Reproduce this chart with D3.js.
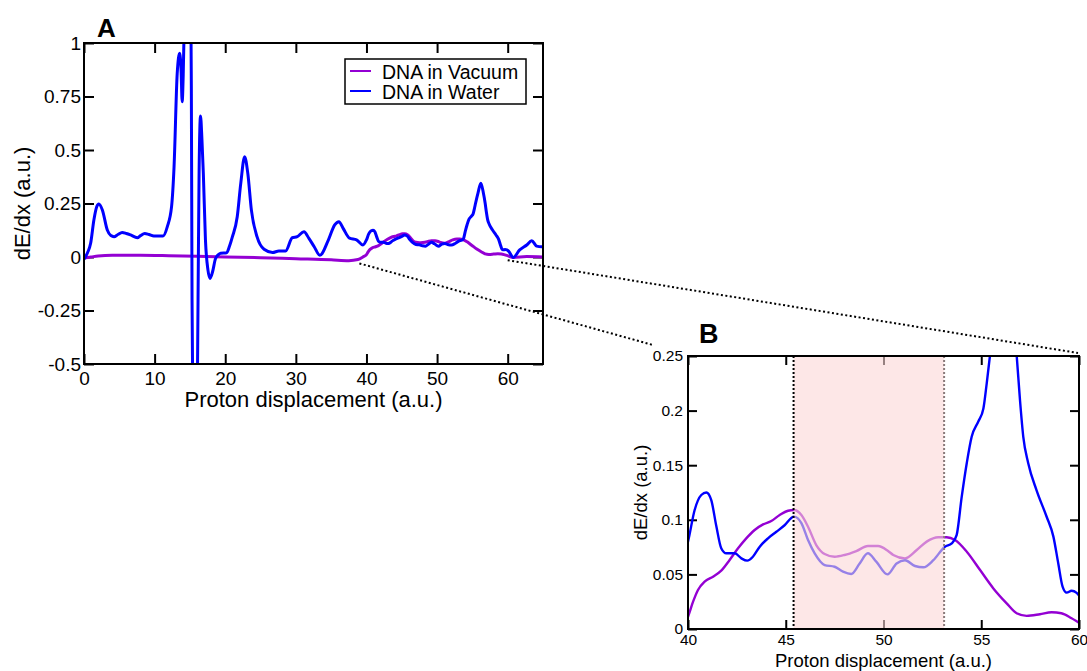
<!DOCTYPE html>
<html>
<head>
<meta charset="utf-8">
<script src="https://cdnjs.cloudflare.com/ajax/libs/d3/7.8.5/d3.min.js"></script>
<style>
body { margin: 0; background: #fff; }
svg { display: block; font-family: "Liberation Sans", Arial, Helvetica, sans-serif; }
</style>
</head>
<body>
<div id="chart"></div>
<script>
// series names + colours
var seriesNames = ["DNA in Vacuum", "DNA in Water"];
var seriesColors = ["#9400d3", "#0000ff"];

// dE/dx in vacuum  [displacement, value]
var vacuumData = [
	[0, -0.005], [1, 0.0], [2, 0.005], [4, 0.008], [8, 0.008], [12, 0.006], [16, 0.003],
	[20, 0.0], [25, -0.003], [30, -0.008], [35, -0.013], [37.5, -0.017], [38.8, -0.012],
	[39.5, 0.0], [40, 0.0113], [40.26, 0.025], [40.51, 0.0357], [40.85, 0.0433], [41.28, 0.0479],
	[41.7, 0.0534], [42.13, 0.0632], [42.56, 0.0739], [42.98, 0.083], [43.41, 0.0907],
	[43.84, 0.0958], [44.26, 0.0989], [44.69, 0.1044], [45.12, 0.1083], [45.42, 0.109],
	[45.8, 0.1044], [46.14, 0.0937], [46.56, 0.0769], [46.99, 0.0687], [47.5, 0.0662],
	[48.01, 0.0678], [48.61, 0.0714], [49.2, 0.076], [49.72, 0.076], [50.23, 0.0715],
	[50.5, 0.0678], [51.1, 0.0647], [51.7, 0.0723], [52.21, 0.08], [52.8, 0.084], [53.23, 0.084],
	[53.66, 0.0815], [54.26, 0.0708], [54.94, 0.054], [55.62, 0.0372], [56.3, 0.0235],
	[56.81, 0.0144], [57.32, 0.012], [58.0, 0.0135], [58.6, 0.0153], [59.1, 0.0144],
	[59.62, 0.0098], [60.05, 0.0052], [60.8, -0.002], [62.7, 0.002], [65, 0.0]
];

// dE/dx in water  [displacement, value]
var waterData = [
	[0, -0.01], [0.5, 0.02], [0.94, 0.064], [1.4, 0.173], [1.8, 0.235], [2.1, 0.248], [2.6, 0.22],
	[3.3, 0.126], [3.8, 0.1], [4.25, 0.095], [4.8, 0.105], [5.4, 0.115], [6.0, 0.11], [6.6, 0.103],
	[7.55, 0.09], [8.0, 0.1], [8.6, 0.11], [9.2, 0.105], [9.9, 0.098], [11.2, 0.098], [11.8, 0.142],
	[12.4, 0.235], [12.75, 0.42], [13.2, 0.858], [13.55, 0.952], [13.75, 0.87], [13.9, 0.726],
	[14.05, 0.85], [14.2, 1.1], [14.6, 1.6], [15.0, 1.4], [15.2, 0.8], [15.3, -0.2], [15.45, -0.8],
	[15.7, -1.2], [16.0, -0.8], [16.15, -0.2], [16.3, 0.4], [16.5, 0.659], [16.7, 0.55],
	[16.9, 0.39], [17.2, 0.079], [17.55, -0.06], [17.85, -0.1], [18.2, -0.07], [18.6, -0.01],
	[19.0, 0.01], [19.35, 0.018], [20.2, 0.02], [20.6, 0.05], [21.0, 0.093], [21.7, 0.188],
	[22.2, 0.344], [22.75, 0.469], [23.2, 0.39], [23.7, 0.22], [24.5, 0.095], [25.5, 0.036],
	[26.7, 0.021], [27.6, 0.028], [28.55, 0.028], [29.5, 0.09], [30.2, 0.095], [31.15, 0.118],
	[31.85, 0.087], [32.6, 0.048], [33.4, 0.008], [34.6, 0.079], [35.5, 0.15], [36.1, 0.165],
	[36.7, 0.134], [37.6, 0.088], [38.6, 0.08], [39.5, 0.056],
	[40, 0.08], [40.34, 0.109], [40.68, 0.1227], [40.94, 0.125], [41.19, 0.118], [41.45, 0.094],
	[41.7, 0.074], [41.96, 0.0693], [42.39, 0.0693], [42.73, 0.0647], [43.03, 0.0626],
	[43.32, 0.0662], [43.67, 0.0754], [44.09, 0.083], [44.52, 0.089], [44.94, 0.095],
	[45.42, 0.1029], [45.8, 0.097], [46.14, 0.0815], [46.48, 0.0693], [46.99, 0.0586],
	[47.5, 0.057], [47.93, 0.0525], [48.35, 0.0504], [48.78, 0.06], [49.2, 0.0693],
	[49.63, 0.0617], [50.2, 0.05], [50.67, 0.06], [51.1, 0.063], [51.61, 0.0577], [52.04, 0.0565],
	[52.55, 0.063], [53.14, 0.0754], [53.49, 0.0784], [53.74, 0.086], [54.0, 0.121],
	[54.26, 0.152], [54.51, 0.176], [54.85, 0.19], [55.11, 0.202], [55.28, 0.225], [55.45, 0.251],
	[55.8, 0.3], [56.2, 0.345], [56.55, 0.3], [56.81, 0.251], [56.98, 0.21], [57.15, 0.176],
	[57.4, 0.152], [57.83, 0.127], [58.34, 0.103], [58.69, 0.0846], [58.94, 0.06], [59.16, 0.0388],
	[59.37, 0.0333], [59.62, 0.035], [59.88, 0.033], [60.1, 0.028], [60.8, -0.002], [61.7, 0.033],
	[62.7, 0.056], [63.4, 0.076], [64.1, 0.051], [64.8, 0.048], [65, 0.05]
];

// tick labels
var ticksAX = [0, 10, 20, 30, 40, 50, 60];
var ticksAY = [-0.5, -0.25, 0, 0.25, 0.5, 0.75, 1];
var ticksBX = [40, 45, 50, 55, 60];
var ticksBY = [0, 0.05, 0.1, 0.15, 0.2, 0.25];

// highlighted window in B, and the zoomed spots in A
var shadeRange = [45.4, 53.1];
var zoomFrom = [[39, -0.03], [60, -0.015]];

var W = 1087, H = 671;

var svg = d3.select("#chart")
			.append("svg")
			.attr("width", W)
			.attr("height", H);

svg.append("rect").attr("width", W).attr("height", H).attr("fill", "#fff");

function drawPanel(p) {
	var x = d3.scaleLinear().domain(p.xDomain).range([p.left, p.right]);
	var y = d3.scaleLinear().domain(p.yDomain).range([p.bottom, p.top]);
	var g = svg.append("g");

	// clip
	g.append("clipPath")
	 .attr("id", p.id + "clip")
	 .append("rect")
	 .attr("x", p.left).attr("y", p.top)
	 .attr("width", p.right - p.left).attr("height", p.bottom - p.top);

	// axes, ticks inward on all sides
	var fmt = function(d) { return String(d); };
	var none = function() { return ""; };
	var axes = [
		[d3.axisBottom(x).tickValues(p.xTicks).tickFormat(fmt).tickPadding(p.padX), "translate(0," + p.bottom + ")"],
		[d3.axisTop(x).tickValues(p.xTicks).tickFormat(none), "translate(0," + p.top + ")"],
		[d3.axisLeft(y).tickValues(p.yTicks).tickFormat(fmt).tickPadding(p.padY), "translate(" + p.left + ",0)"],
		[d3.axisRight(y).tickValues(p.yTicks).tickFormat(none), "translate(" + p.right + ",0)"]
	];
	axes.forEach(function(a) {
		var ax = g.append("g")
				  .attr("transform", a[1])
				  .call(a[0].tickSizeInner(-p.tickLen).tickSizeOuter(0));
		ax.select(".domain").remove();
		ax.selectAll(".tick line").attr("stroke", "#000").attr("stroke-width", 2);
		ax.selectAll(".tick text")
		  .attr("fill", "#000")
		  .style("font-size", p.tickFont + "px")
		  .style("font-family", "\"Liberation Sans\", Arial, sans-serif");
	});

	// lines
	var line = d3.line()
				 .x(function(d) { return x(d[0]); })
				 .y(function(d) { return y(d[1]); })
				 .curve(d3.curveMonotoneX);
	var lg = g.append("g").attr("clip-path", "url(#" + p.id + "clip)");
	[vacuumData, waterData].forEach(function(data, i) {
		lg.append("path")
		  .datum(data)
		  .attr("d", line)
		  .attr("fill", "none")
		  .attr("stroke", seriesColors[i])
		  .attr("stroke-width", p.lineW)
		  .attr("stroke-linejoin", "round");
	});

	return { g: g, x: x, y: y };
}

// Panel A
var A = drawPanel({
	id: "A", left: 84, right: 543, top: 43, bottom: 364,
	xDomain: [0, 65], yDomain: [-0.5, 1],
	xTicks: ticksAX, yTicks: ticksAY,
	tickLen: 10, tickFont: 19, padX: 8, padY: 3, lineW: 3
});

// Panel B
var B = drawPanel({
	id: "B", left: 688, right: 1079, top: 356, bottom: 629,
	xDomain: [40, 60], yDomain: [0, 0.25],
	xTicks: ticksBX, yTicks: ticksBY,
	tickLen: 9, tickFont: 15.5, padX: 5, padY: 5, lineW: 2.4
});

// shaded window over B
B.g.append("rect")
   .attr("x", B.x(shadeRange[0]))
   .attr("y", B.y(0.25))
   .attr("width", B.x(shadeRange[1]) - B.x(shadeRange[0]))
   .attr("height", B.y(0) - B.y(0.25))
   .attr("fill", "#fcd7d7")
   .attr("opacity", 0.6);

B.g.selectAll("line.edge")
   .data(shadeRange)
   .enter()
   .append("line")
   .attr("x1", function(d) { return B.x(d); })
   .attr("x2", function(d) { return B.x(d); })
   .attr("y1", B.y(0.25))
   .attr("y2", B.y(0))
   .attr("stroke", function(d, i) { return i == 0 ? "#000" : "#8a7a7a"; })
   .attr("stroke-width", 2)
   .attr("stroke-dasharray", "2,2");

// frames
[A, B].forEach(function(P) {
	var xr = P.x.range(), yr = P.y.range();
	P.g.append("rect")
	   .attr("x", xr[0]).attr("y", yr[1])
	   .attr("width", xr[1] - xr[0]).attr("height", yr[0] - yr[1])
	   .attr("fill", "none")
	   .attr("stroke", "#000")
	   .attr("stroke-width", 2);
});

// axis titles
svg.append("text")
   .attr("x", (A.x.range()[0] + A.x.range()[1]) / 2)
   .attr("y", 407)
   .attr("text-anchor", "middle")
   .attr("font-size", "22px")
   .text("Proton displacement (a.u.)");

svg.append("text")
   .attr("transform", "translate(30," + (A.y.range()[0] + A.y.range()[1]) / 2 + ") rotate(-90)")
   .attr("text-anchor", "middle")
   .attr("font-size", "22px")
   .text("dE/dx (a.u.)");

svg.append("text")
   .attr("x", (B.x.range()[0] + B.x.range()[1]) / 2)
   .attr("y", 667)
   .attr("text-anchor", "middle")
   .attr("font-size", "18.5px")
   .text("Proton displacement (a.u.)");

svg.append("text")
   .attr("transform", "translate(647," + (B.y.range()[0] + B.y.range()[1]) / 2 + ") rotate(-90)")
   .attr("text-anchor", "middle")
   .attr("font-size", "18.5px")
   .text("dE/dx (a.u.)");

// panel letters
svg.append("text").attr("x", 97).attr("y", 37)
   .attr("font-size", "26px").attr("font-weight", "bold").text("A");
svg.append("text").attr("x", 699).attr("y", 343)
   .attr("font-size", "27px").attr("font-weight", "bold").text("B");

// legend
var legend = svg.append("g");
legend.append("rect")
	  .attr("x", 345).attr("y", 59)
	  .attr("width", 181).attr("height", 45)
	  .attr("fill", "#fff")
	  .attr("stroke", "#000")
	  .attr("stroke-width", 1.5);

seriesNames.forEach(function(name, i) {
	var ly = 71 + i * 20;
	legend.append("line")
		  .attr("x1", 350).attr("x2", 371)
		  .attr("y1", ly).attr("y2", ly)
		  .attr("stroke", seriesColors[i])
		  .attr("stroke-width", 2);
	legend.append("text")
		  .attr("x", 382).attr("y", ly + 8)
		  .attr("font-size", "19.5px")
		  .text(name);
});

// dotted zoom connectors from A to the corners of B
var zoomTo = [
	[B.x(40) - 35, B.y(0.25) - 11],
	[B.x(60) - 1, B.y(0.25) - 3]
];
zoomFrom.forEach(function(pt, i) {
	svg.append("line")
	   .attr("x1", A.x(pt[0]))
	   .attr("y1", A.y(pt[1]))
	   .attr("x2", zoomTo[i][0])
	   .attr("y2", zoomTo[i][1])
	   .attr("stroke", "#000")
	   .attr("stroke-width", 2)
	   .attr("stroke-dasharray", "2,2.5");
});
</script>
</body>
</html>
